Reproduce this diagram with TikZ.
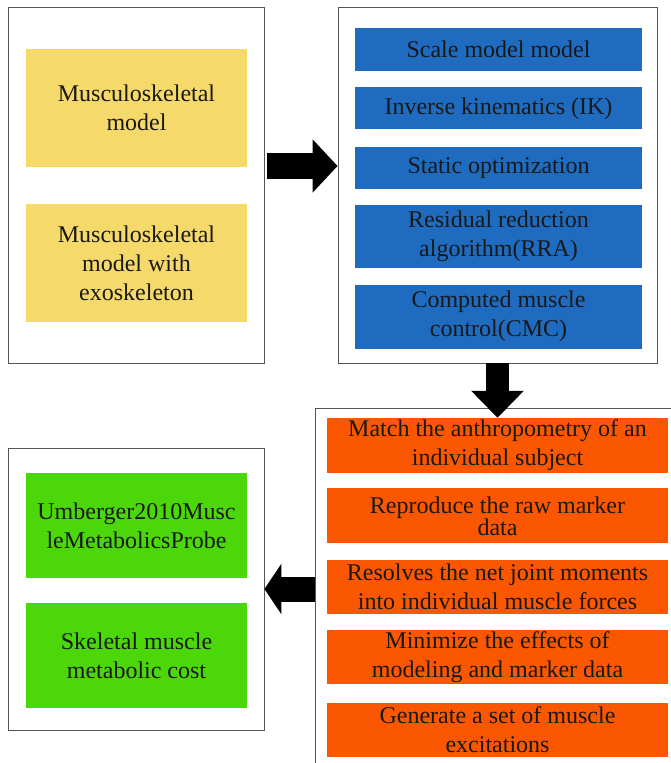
\documentclass[tikz,border=0pt]{standalone}
\usepackage{fontspec}
\setmainfont{Liberation Serif}
\usetikzlibrary{arrows.meta,positioning,calc}
\definecolor{msyellow}{HTML}{F6D96B}
\definecolor{msblue}{HTML}{1F6BBF}
\definecolor{msorange}{HTML}{FA5700}
\definecolor{msgreen}{HTML}{4CD70A}
\definecolor{msframe}{HTML}{555555}

\begin{document}
\begin{tikzpicture}[
  x=1pt, y=-1pt,
  panel/.style={
    draw=msframe, line width=0.9pt, fill=white,
    inner sep=0pt},
  box/.style={
    inner sep=0pt, align=center, text=black!90,
    font=\fontsize{24}{29}\selectfont},
  ybox/.style={box, fill=msyellow, minimum width=221pt, minimum height=118pt},
  bbox/.style={box, fill=msblue, minimum width=287pt},
  obox/.style={box, fill=msorange, minimum width=341pt, minimum height=54pt},
  gbox/.style={box, fill=msgreen, minimum width=221pt, minimum height=105pt},
  fatarrow/.style={-{Triangle[length=25pt,width=52pt]}, line width=26pt, black},
]
  \useasboundingbox (0,0) rectangle (670,763);

  %% ---- Paneles ----
  \node[panel, minimum width=256pt, minimum height=356pt] (pModel) at (136,185) {};
  \node[panel, minimum width=319pt, minimum height=356pt] (pTools) at (497.5,185) {};
  \node[panel, minimum width=367pt, minimum height=367pt] (pGoal)  at (498.5,591.5) {};
  \node[panel, minimum width=256pt, minimum height=282pt] (pCost)  at (136,589) {};

  %% ---- Modelos ----
  \node[ybox] (mBase) at (136.5,108) {Musculoskeletal\\model};
  \node[ybox, below=37pt of mBase] (mExo) {Musculoskeletal\\model with\\exoskeleton};

  %% ---- Herramientas ----
  \node[bbox, minimum height=43pt] (tScale) at (498.5,49.5) {Scale model model};
  \node[bbox, minimum height=42pt, below=16pt of tScale] (tIK) {Inverse kinematics (IK)};
  \node[bbox, minimum height=42pt, below=17pt of tIK] (tSO) {Static optimization};
  \node[bbox, minimum height=63pt, below=16pt of tSO] (tRRA) {Residual reduction\\algorithm(RRA)};
  \node[bbox, minimum height=64pt, below=16pt of tRRA] (tCMC) {Computed muscle\\control(CMC)};

  %% ---- Objetivos ----
  \node[obox, minimum height=55pt] (oMatch) at (497.5,445.5) {Match the anthropometry of an\\individual subject};
  \node[obox, minimum height=55pt, below=15pt of oMatch,
        font=\fontsize{24}{22}\selectfont] (oMarker) {Reproduce the raw marker\\data};
  \node[obox, below=16pt of oMarker] (oForce) {Resolves the net joint moments\\into individual muscle forces};
  \node[obox, below=16pt of oForce] (oError) {Minimize the effects of\\modeling and marker data};
  \node[obox, below=18pt of oError] (oExcit) {Generate a set of muscle\\excitations};

  %% ---- Costo metabolico ----
  \node[gbox] (cProbe) at (136.5,525.5) {Umberger2010Musc\\leMetabolicsProbe};
  \node[gbox, below=25pt of cProbe] (cCost) {Skeletal muscle\\metabolic cost};

  %% ---- Flechas ----
  \draw[fatarrow] ([xshift=3pt,yshift=19pt]pModel.east) -- ([yshift=19pt]pTools.west);
  \draw[fatarrow, line width=23pt, -{Triangle[length=27pt,width=51pt]}]
    (pTools.south) -- (pTools.south |- oMatch.north);
  \draw[fatarrow, line width=25pt, -{Triangle[length=17pt,width=50pt]}]
    (pGoal.west |- pCost.east) -- (pCost.east);

\end{tikzpicture}
\end{document}
